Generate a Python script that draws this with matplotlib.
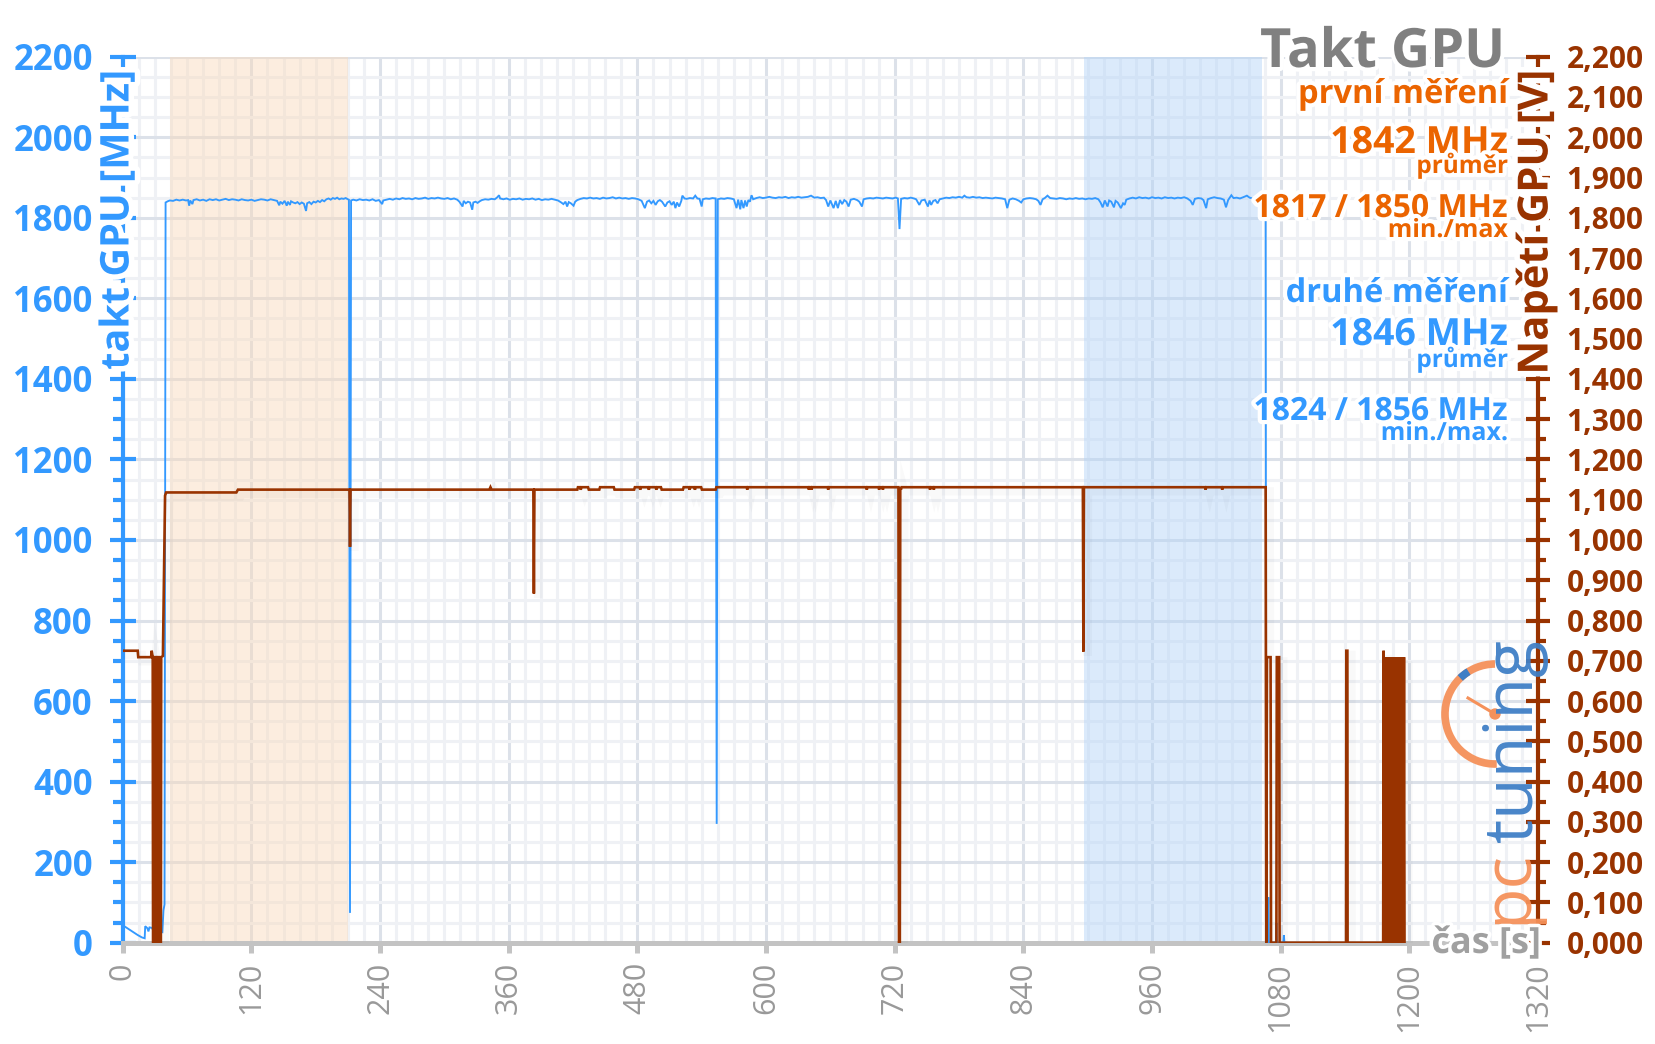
import matplotlib
matplotlib.use("Agg")
import matplotlib.pyplot as plt
import matplotlib.patheffects as pe
from matplotlib.patches import Arc, Circle
from matplotlib.lines import Line2D
from matplotlib.ticker import MultipleLocator, FuncFormatter

plt.rcParams['font.family'] = ['Open Sans', 'DejaVu Sans']

# ---------------- data ----------------
# GPU clock [MHz] (time s, value)
clock_samples = [
 (0,40),(2,40),(6,33),(10,26),(14,19),(18,13),(20.5,11),(21,41),(23,36),(24,28),(25,38),(27,37),(29,30),(31,35),(33,33),(35,27),(37,26),(38,80),(39,95),(39.5,1000),(40,1838),
 (42,1841),(44,1843),(47,1842),(50,1845),(53,1843),(56,1845),(59,1843),(61,1844),(62,1830),(63,1843),(65,1834),(66,1844),(69,1846),(72,1843),(75,1845),(78,1842),(81,1846),(84,1844),(87,1846),(90,1843),(93,1845),(96,1847),(99,1844),(102,1846),(105,1845),(108,1843),(111,1846),(114,1844),(117,1843),(120,1845),(123,1842),(126,1844),(129,1846),(132,1845),(135,1843),(138,1846),(141,1844),(144,1842),(146,1831),(147,1840),(149,1835),(151,1842),(153,1830),(154,1840),(156,1832),(157,1841),(159,1838),(161,1836),(163,1839),(165,1834),(167,1838),(169,1835),(171,1817),(172,1836),(174,1839),(176,1834),(178,1840),(180,1838),(182,1842),(184,1839),(186,1844),(188,1841),(190,1846),(192,1848),(194,1845),(196,1849),(198,1847),(200,1850),(202,1846),(204,1848),(206,1847),(208,1849),(210,1846),(211,1845),(212,74),(213,1843),
 (215,1845),(218,1843),(221,1846),(224,1844),(227,1845),(230,1843),(233,1846),(236,1842),(239,1844),(242,1834),(243,1843),(246,1845),(249,1847),(252,1845),(255,1848),(258,1846),(261,1849),(264,1847),(267,1848),(270,1846),(273,1849),(276,1847),(279,1848),(282,1850),(285,1847),(288,1849),(291,1848),(294,1850),(297,1848),(300,1847),(303,1849),(306,1846),(309,1848),(312,1845),(314,1840),(317,1828),(318,1842),(320,1836),(322,1840),(324,1838),(326,1820),(327,1838),(329,1840),(331,1837),(333,1841),(335,1844),(338,1846),(341,1845),(344,1847),(347,1846),(349,1850),(351,1856),(352,1848),(355,1846),(358,1848),(361,1845),(364,1847),(367,1846),(370,1848),(373,1845),(376,1847),(379,1846),(382,1848),(385,1845),(388,1847),(391,1844),(394,1846),(397,1845),(400,1847),(403,1845),(406,1843),(409,1838),(411,1834),(413,1840),(414.5,1828),(416,1839),(418,1836),(420.5,1830),(422,1840),(424,1844),(427,1847),(430,1849),(433,1848),(436,1850),(439,1848),(442,1849),(445,1847),(448,1850),(451,1848),(454,1849),(457,1851),(460,1848),(463,1850),(466,1848),(469,1849),(472,1847),(475,1849),(478,1848),(481,1846),(484,1842),(487,1824),(489,1840),(491,1843),(493,1836),(495,1842),(497,1832),(499,1841),(501,1844),(503,1840),(506,1828),(508,1838),(510,1841),(512,1832),(514,1840),(515.5,1824),(517,1838),(519,1828),(521,1842),(522,1855),(524,1848),(526,1847),(529,1849),(532,1848),(534,1855),(536,1848),(538,1847),(540,1828),(541,1846),(544,1848),(547,1847),(550,1849),(553,1848),(554,295),(555,1846),
 (558,1848),(561,1847),(564,1849),(567,1848),(570,1846),(572.5,1824),(574,1845),(576,1821),(577,1844),(579,1824),(580.5,1843),(582,1828),(583.5,1844),(585,1840),(586.5,1856),(588,1846),(591,1849),(594,1851),(597,1849),(600,1850),(603,1852),(606,1850),(609,1849),(612,1851),(615,1850),(618,1852),(621,1849),(624,1851),(627,1850),(630,1852),(633,1850),(636,1851),(639,1852),(642,1855),(645,1850),(648,1851),(651,1849),(654,1850),(656,1844),(658,1828),(660,1843),(663,1824),(665,1842),(667,1824),(669,1844),(671,1834),(673,1844),(675,1840),(677,1828),(679,1845),(682,1847),(685,1844),(687,1840),(689.5,1828),(691,1846),(694,1848),(697,1849),(700,1848),(703,1850),(706,1849),(709,1848),(712,1850),(715,1849),(718,1848),(721,1850),(723,1848),(724.5,1772),(726,1847),(729,1849),(732,1848),(735,1850),(738,1848),(740,1846),(743,1832),(745,1843),(748,1845),(751,1828),(752.5,1843),(754,1832),(756,1842),(758,1844),(760,1836),(762,1846),(765,1848),(768,1850),(771,1849),(774,1851),(777,1850),(780,1852),(783,1850),(785,1855),(787,1851),(790,1850),(793,1852),(796,1850),(799,1851),(802,1849),(805,1850),(808,1849),(811,1848),(814,1850),(817,1849),(820,1848),(823,1846),(825,1824),(827,1845),(830,1848),(833,1846),(836,1842),(838,1838),(840,1846),(843,1848),(846,1849),(849,1848),(852,1846),(854,1842),(856,1832),(858,1846),(860,1849),(862.5,1855),(865,1849),(868,1848),(871,1847),(874,1849),(877,1848),(880,1846),(883,1848),(886,1847),(889,1849),(892,1847),(895,1848),(898,1846),(901,1848),(904,1847),(907,1849),(910,1846),(912,1838),(914,1826),(916,1843),(918.5,1828),(920,1843),(922,1840),(924.5,1826),(926,1842),(928,1838),(931,1824),(933,1836),(934.5,1832),(936,1845),(939,1848),(942,1850),(945,1848),(948,1851),(951,1849),(954,1850),(957,1848),(960,1851),(963,1849),(966,1850),(969,1848),(972,1851),(975,1849),(978,1850),(981,1848),(984,1850),(987,1849),(990,1851),(993,1848),(996,1842),(998,1832),(1000,1847),(1003,1849),(1006,1848),(1008,1844),(1010.5,1824),(1012,1846),(1015,1849),(1018,1851),(1021,1849),(1024,1848),(1027,1845),(1029,1826),(1031,1844),(1034,1856),(1036,1849),(1039,1850),(1042,1848),(1045,1851),(1048.5,1855),(1051,1850),(1054,1848),(1057,1850),(1060,1849),(1063,1847),(1065,1848),(1066,1846),(1066.5,20),(1067.5,0),(1068.5,113),(1069,0),(1075.5,0),(1076,49),(1076.5,0),(1082.5,0),(1083,19),(1083.5,0),(1085,0)
]

# GPU voltage [V] (time s, value)
voltage_samples = [
 (0,0.725),(14,0.725),(14.5,0.709),(26.5,0.709),(27,0.725),(28,0.709),(28.3,0),(29.3,0),(29.6,0.709),(31,0.709),(31.3,0),(32.6,0),(32.9,0.709),(34,0.709),(34.3,0),(35.6,0),(35.9,0.709),(37.5,0.712),(39.5,1.110),(40.5,1.118),(106,1.118),(107.5,1.125),
 (211.5,1.125),(212,0.983),(212.5,1.125),
 (342,1.125),(343,1.131),(344,1.125),
 (383,1.125),(383.5,0.867),(384,1.125),
 (424,1.125),(424.6,1.131),(426.5,1.131),(427.2,1.125),(428,1.131),(434,1.131),(434.7,1.125),
 (444.5,1.125),(445.2,1.131),(458,1.131),(458.7,1.125),
 (477,1.125),(477.7,1.131),(482,1.131),(482.7,1.125),(483.4,1.131),(490,1.131),(490.7,1.125),(491.4,1.131),(497,1.131),(497.7,1.125),(498.4,1.131),(502,1.131),(502.7,1.125),
 (522.5,1.125),(523.2,1.131),(528,1.131),(528.7,1.125),(529.4,1.131),(533,1.131),(533.7,1.125),(534.4,1.131),(539.5,1.131),(540.2,1.125),
 (553,1.125),(553.7,1.131),
 (582,1.131),(582.5,1.125),(583,1.131),
 (639.5,1.131),(640,1.125),(640.5,1.131),(642,1.131),(642.5,1.125),(643,1.131),
 (657.5,1.131),(658,1.125),(658.5,1.131),
 (693.5,1.131),(694,1.125),(694.5,1.131),
 (705,1.131),(705.5,1.125),(706,1.131),(708.5,1.131),(709,1.125),(709.5,1.131),
 (723.5,1.131),(724,0.0),(724.8,0.0),(725.2,1.131),(725.8,1.125),(726.4,1.131),
 (752.5,1.131),(753,1.125),(753.5,1.131),(756,1.131),(756.5,1.125),(757,1.131),
 (895.5,1.131),(896,0.723),(896.5,1.131),
 (1009.5,1.131),(1010,1.125),(1010.5,1.131),(1025,1.131),(1025.5,1.125),(1026,1.131),
 (1066,1.131),(1066.6,0.0),(1067.2,0.709),(1070.6,0.709),(1071,0.0),(1076,0.0),(1076.4,0.709),(1078.6,0.709),(1079,0.0),
 (1141,0.0),(1141.2,0.725),(1142.2,0.725),(1142.4,0.0),
 (1175.6,0.0),(1176,0.725),(1176.5,0),(1177,0.709),(1177.5,0),(1178,0.709),(1178.5,0),(1179,0.709),(1179.5,0),(1180,0.709),(1180.5,0),
 (1181,0.709),(1181.5,0),(1182,0.709),(1182.5,0),(1183,0.709),(1183.5,0),(1184,0.709),(1184.5,0),(1185,0.709),(1185.5,0),
 (1186,0.709),(1186.5,0),(1187,0.709),(1187.5,0),(1188,0.709),(1188.5,0),(1189,0.709),(1189.5,0),(1190,0.709),(1190.5,0),
 (1191,0.709),(1191.5,0),(1192,0.709),(1192.5,0),(1193,0.709),(1193.5,0),(1194,0.709),(1194.5,0),(1195,0.709),(1195.5,0)
]

first_run_span = (44, 210)
second_run_span = (897, 1063)

x_ticks = [0, 120, 240, 360, 480, 600, 720, 840, 960, 1080, 1200, 1320]

title = "Takt GPU"
first_label = "první měření"
first_avg = "1842 MHz"
first_minmax = "1817 / 1850 MHz"
second_label = "druhé měření"
second_avg = "1846 MHz"
second_minmax = "1824 / 1856 MHz"

# ---------------- style ----------------
BLUE = '#3399ff'
BROWN = '#993300'
ORANGE = '#eb6400'
GRAY_T = '#808080'
GRAY_AX = '#c3c3c3'
GRAY_LBL = '#999999'

W, H = 1656, 1044
fig = plt.figure(figsize=(W / 100, H / 100), dpi=100)
fig.patch.set_facecolor('white')

def fpos(x, y):
    return (x / W, 1 - y / H)

x0, x1, y0, y1 = 122.7, 1538.0, 942.7, 56.7
ax = fig.add_axes([x0 / W, 1 - y0 / H, (x1 - x0) / W, (y0 - y1) / H])
ax.set_xlim(0, 1320)
ax.set_ylim(0, 2200)
ax.set_facecolor('white')

ax.xaxis.set_major_locator(MultipleLocator(120))
ax.xaxis.set_minor_locator(MultipleLocator(15))
ax.yaxis.set_major_locator(MultipleLocator(200))
ax.yaxis.set_minor_locator(MultipleLocator(50))
ax.set_axisbelow(True)
ax.grid(which='minor', color='#eff1f5', lw=2.2, zorder=0.3)
ax.grid(which='major', color='#dce1e9', lw=2.2, zorder=0.4)

for s in ['top', 'right']:
    ax.spines[s].set_visible(False)
ax.spines['left'].set_color(BLUE)
ax.spines['left'].set_linewidth(3.0)
ax.spines['bottom'].set_color(GRAY_AX)
ax.spines['bottom'].set_linewidth(3.6)

ax.tick_params(axis='y', which='major', direction='inout', length=19, width=3,
               color=BLUE, labelcolor=BLUE, labelsize=25, pad=12)
ax.tick_params(axis='y', which='minor', direction='out', length=7, width=3, color=BLUE)
for lab in ax.get_yticklabels():
    lab.set_fontweight('bold')
ax.tick_params(axis='x', which='major', direction='out', length=7, width=3.6,
               color=GRAY_AX, labelcolor=GRAY_LBL, labelsize=22, pad=7,
               labelrotation=90)
ax.tick_params(axis='x', which='minor', length=0)
ax.set_xticks(x_ticks)

ax.axvspan(*first_run_span, color='#fad9ba', alpha=0.45, lw=0, zorder=1)
ax.axvspan(*second_run_span, color='#b1d2f8', alpha=0.45, lw=0, zorder=1)

shadow = [pe.SimpleLineShadow(offset=(3, -3), shadow_color='#000000', alpha=0.025, linewidth=6),
          pe.Normal()]

clock_t = [p[0] for p in clock_samples]
clock_v = [p[1] for p in clock_samples]
ax.plot(clock_t, clock_v, color=BLUE, lw=1.35, zorder=3, solid_joinstyle='miter')

ax2 = ax.twinx()
ax2.set_ylim(0, 2.2)
for s in ['top', 'left', 'bottom']:
    ax2.spines[s].set_visible(False)
ax2.spines['right'].set_color(BROWN)
ax2.spines['right'].set_linewidth(3.0)
ax2.yaxis.set_major_locator(MultipleLocator(0.1))
ax2.yaxis.set_minor_locator(MultipleLocator(0.05))
ax2.yaxis.set_major_formatter(FuncFormatter(lambda v, p: f"{v:.3f}".replace('.', ',')))
ax2.tick_params(axis='y', which='major', direction='inout', length=17, width=3,
                color=BROWN, labelcolor=BROWN, labelsize=21.5, pad=12)
ax2.tick_params(axis='y', which='minor', direction='out', length=6, width=3, color=BROWN)
for lab in ax2.get_yticklabels():
    lab.set_fontweight('bold')

volt_t = [p[0] for p in voltage_samples]
volt_v = [p[1] for p in voltage_samples]
ax2.plot(volt_t, volt_v, color=BROWN, lw=1.9, zorder=3, path_effects=shadow,
         solid_joinstyle='miter')

# ---------------- logo (below texts) ----------------
LOGO_OR = '#f5915a'
LOGO_BL = '#3f7fc6'
t_pc = fig.text(*fpos(1526, 924), "pc", rotation=90, rotation_mode='anchor',
                ha='left', va='baseline', fontsize=49, color=LOGO_OR, alpha=0.95, zorder=8)
fig.canvas.draw()
bb = t_pc.get_window_extent()
fig.text(1532 / W, (bb.y1 + 8) / H, "tuning", rotation=90, rotation_mode='anchor',
         ha='left', va='baseline', fontsize=49, color=LOGO_BL, alpha=0.95, zorder=8)

cx, cy, r = 1495 / 100, (H - 714) / 100, 0.50
fig.add_artist(Arc((cx, cy), 2 * r, 2 * r, theta1=90, theta2=272,
                   transform=fig.dpi_scale_trans, color=LOGO_OR, lw=5.5, alpha=0.95, zorder=8))
fig.add_artist(Arc((cx, cy), 2 * r, 2 * r, theta1=122, theta2=134,
                   transform=fig.dpi_scale_trans, color=LOGO_BL, lw=5.5, zorder=8))
fig.add_artist(Line2D([cx, cx - 0.27], [cy, cy + 0.16], transform=fig.dpi_scale_trans,
                      color=LOGO_OR, lw=2.2, zorder=8))
fig.add_artist(Circle((cx, cy), 0.05, transform=fig.dpi_scale_trans,
                      color=LOGO_OR, zorder=8))

# ---------------- texts ----------------
halo = [pe.withStroke(linewidth=6, foreground='white')]

def rtext(y, s, size, color, x=1508):
    fig.text(*fpos(x, y), s, ha='right', va='baseline', fontsize=size,
             fontweight='bold', color=color, path_effects=halo, zorder=10)

rtext(67, title, 39, GRAY_T, x=1505)
rtext(103, first_label, 23.5, ORANGE)
rtext(153, first_avg, 27, ORANGE)
rtext(173, "průměr", 17.5, ORANGE)
rtext(217, first_minmax, 23, ORANGE)
rtext(237, "min./max", 18, ORANGE)
rtext(302, second_label, 23.5, BLUE)
rtext(345, second_avg, 27, BLUE)
rtext(367, "průměr", 17.5, BLUE)
rtext(420, second_minmax, 23, BLUE)
rtext(440, "min./max.", 18, BLUE)

halo_big = [pe.withStroke(linewidth=8, foreground='white')]
fig.text(*fpos(118, 70), "takt GPU [MHz]", rotation=90, ha='center', va='top',
         fontsize=28.5, fontweight='bold', color=BLUE, path_effects=halo_big, zorder=10)
fig.text(*fpos(1537, 70), "Napětí GPU [V]", rotation=90, ha='center', va='top',
         fontsize=30, fontweight='bold', color=BROWN, path_effects=halo_big, zorder=10)
fig.text(*fpos(1541, 944), "čas [s]", ha='right', va='center', fontsize=26,
         fontweight='bold', color='#a0a0a0',
         path_effects=[pe.withStroke(linewidth=5, foreground='white')], zorder=10)

fig.savefig('out.png', dpi=100, facecolor='white')
